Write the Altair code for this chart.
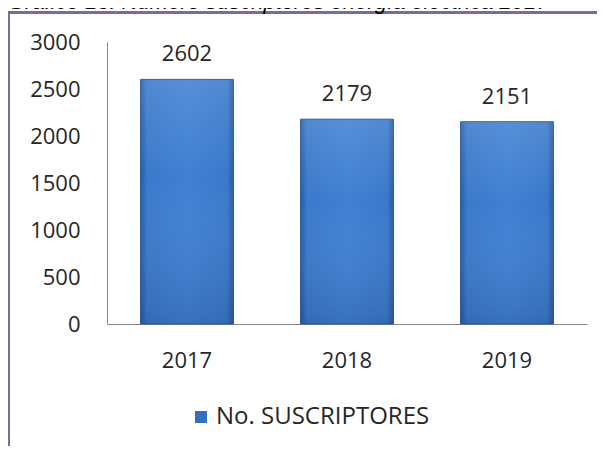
import altair as alt
import pandas as pd

# ---- data ----
years = ["2017", "2018", "2019"]
suscriptores = [2602, 2179, 2151]
series_name = ["No. SUSCRIPTORES", "No. SUSCRIPTORES", "No. SUSCRIPTORES"]
y_ticks = [0, 500, 1000, 1500, 2000, 2500, 3000]
title_text = ["Gráfico 13. Número suscriptores energía eléctrica 2017"]

df = pd.DataFrame({"year": years, "value": suscriptores, "series": series_name})

FONT = "Open Sans"
TEXT = "#262626"
PURPLE = "#7F68A0"
AXIS = "#868686"

x_enc = alt.X(
    "year:N", title=None, sort=years,
    scale=alt.Scale(paddingInner=0.42, paddingOuter=0.21),
    axis=alt.Axis(labelAngle=0, labelFont=FONT, labelFontSize=22, labelColor=TEXT,
                  ticks=False, tickSize=0, labelPadding=26,
                  domainColor=AXIS, domainWidth=1),
)
y_enc = alt.Y(
    "value:Q", title=None,
    scale=alt.Scale(domain=[0, 3000], nice=False),
    axis=alt.Axis(values=y_ticks, format="d", grid=False, ticks=False, tickSize=0,
                  labelPadding=27, labelFont=FONT, labelFontSize=22, labelColor=TEXT,
                  domainColor=AXIS, domainWidth=1),
)

base = alt.Chart(df)

bars_solid = base.mark_bar().encode(
    x=x_enc, y=y_enc,
    color=alt.Color(
        "series:N",
        scale=alt.Scale(range=["#3470C0"]),
        legend=alt.Legend(orient="none", legendX=82, legendY=363, title=None,
                          symbolType="square", symbolSize=144, symbolStrokeWidth=0,
                          labelFont=FONT, labelFontSize=24, labelColor=TEXT,
                          labelOffset=3, labelLimit=0),
    ),
)

side_grad = alt.Gradient(
    gradient="linear", x1=0, x2=1, y1=0, y2=0,
    stops=[
        alt.GradientStop(color="#2A5BA2", offset=0),
        alt.GradientStop(color="#3A79CB", offset=0.07),
        alt.GradientStop(color="#3F80D3", offset=0.5),
        alt.GradientStop(color="#3A79CB", offset=0.93),
        alt.GradientStop(color="#2A5BA2", offset=1),
    ],
)
bars_grad = base.mark_bar(fill=side_grad, stroke="#2D5C9E", strokeWidth=1).encode(
    x=alt.X("year:N", sort=years), y=alt.Y("value:Q")
)

vert_grad = alt.Gradient(
    gradient="linear", x1=0, x2=0, y1=0, y2=1,
    stops=[
        alt.GradientStop(color="rgba(255,255,255,0.12)", offset=0),
        alt.GradientStop(color="rgba(255,255,255,0.0)", offset=0.4),
        alt.GradientStop(color="rgba(0,0,40,0.12)", offset=1),
    ],
)
bars_shade = base.mark_bar(fill=vert_grad).encode(
    x=alt.X("year:N", sort=years), y=alt.Y("value:Q")
)

labels = base.mark_text(dy=-18, baseline="alphabetic", font=FONT, fontSize=22,
                        color=TEXT).encode(
    x=alt.X("year:N", sort=years), y=alt.Y("value:Q"), text="value:Q"
)

one = alt.Data(values=[{"t": title_text[0]}])
frame_left = alt.Chart(one).mark_rule(color=PURPLE, strokeWidth=3).encode(
    x=alt.value(-98.5), y=alt.value(-31), y2=alt.value(404)
)
frame_top = alt.Chart(one).mark_rule(color=PURPLE, strokeWidth=3).encode(
    x=alt.value(-99), x2=alt.value(490), y=alt.value(-29.5)
)
title_mark = alt.Chart(one).mark_text(
    align="left", baseline="alphabetic", font="Liberation Sans", fontStyle="italic",
    fontSize=22, color="#000000"
).encode(x=alt.value(-99), y=alt.value(-33), text="t:N")

chart = alt.layer(
    bars_solid, bars_grad, bars_shade, labels, frame_left, frame_top, title_mark
).properties(
    width=480, height=282,
    autosize=alt.AutoSizeParams(type="none"),
    padding={"left": 99, "top": 34, "right": 10, "bottom": 122},
    background="white",
).configure_view(stroke=None)

chart.save("out.html", embed_options={"renderer": "svg", "actions": False})
